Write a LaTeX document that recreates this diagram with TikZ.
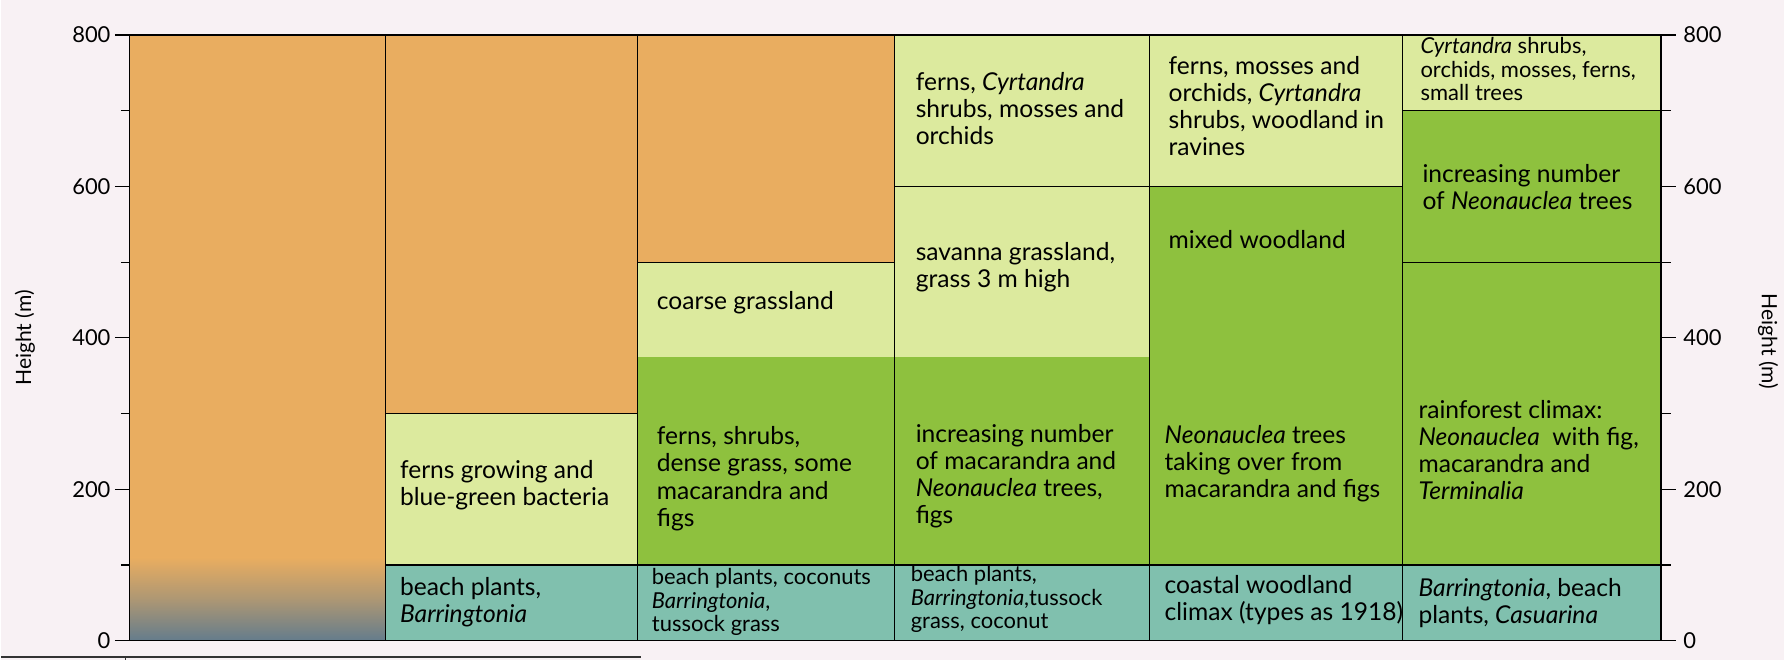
\documentclass[tikz,border=0pt]{standalone}
\usepackage{fontspec}
\setmainfont{Lato}
\usetikzlibrary{positioning}

\definecolor{paper}{HTML}{F8F1F4}
\definecolor{bare}{HTML}{E9AD60}
\definecolor{palegreen}{HTML}{DCEA9E}
\definecolor{leafgreen}{HTML}{8EC13E}
\definecolor{shore}{HTML}{80C0AE}
\definecolor{slate}{HTML}{647C8C}

\begin{document}
\begin{tikzpicture}[x=0.02cm, y=0.02cm,
  zone/.style={draw=black, line width=0.7pt},
  lbl/.style={anchor=west, align=left, inner sep=0pt, font=\fontsize{14}{15.4}\selectfont},
  lblsmall/.style={lbl, font=\fontsize{12.5}{13.2}\selectfont},
  axtick/.style={line width=0.7pt},
  ticklbl/.style={inner sep=0pt, font=\fontsize{12.5}{15}\selectfont},
  axtitle/.style={inner sep=0pt, font=\fontsize{12}{14}\selectfont}
]

\fill[paper] (0,0) rectangle (1784,660);
\draw[line width=1pt, black!80] (0,3) -- (640,3);
\draw[line width=0.6pt, black!80] (125,3) -- (125,0);

\begin{scope}[yshift=0.38cm, y=0.01515cm]

% column 1: bare lava
\fill[bare] (129,110) rectangle (385,800);
\shade[top color=bare, bottom color=slate, middle color=slate!45!bare] (129,0) rectangle (385,110);
\draw[zone] (129,0) rectangle (385,800);

% column 2
\filldraw[zone, fill=bare] (385,300) rectangle (637,800);
\filldraw[zone, fill=palegreen] (385,100) rectangle (637,300);
\filldraw[zone, fill=shore] (385,0) rectangle (637,100);

% column 3
\filldraw[zone, fill=bare] (637,500) rectangle (894,800);
\fill[palegreen] (637,375) rectangle (894,500);
\fill[leafgreen] (637,100) rectangle (894,375);
\draw[zone] (637,100) rectangle (894,500);
\filldraw[zone, fill=shore] (637,0) rectangle (894,100);

% column 4
\filldraw[zone, fill=palegreen] (894,600) rectangle (1149,800);
\fill[palegreen] (894,375) rectangle (1149,600);
\fill[leafgreen] (894,100) rectangle (1149,375);
\draw[zone] (894,100) rectangle (1149,600);
\filldraw[zone, fill=shore] (894,0) rectangle (1149,100);

% column 5
\filldraw[zone, fill=palegreen] (1149,600) rectangle (1402,800);
\filldraw[zone, fill=leafgreen] (1149,100) rectangle (1402,600);
\filldraw[zone, fill=shore] (1149,0) rectangle (1402,100);

% column 6
\filldraw[zone, fill=palegreen] (1402,700) rectangle (1661,800);
\filldraw[zone, fill=leafgreen] (1402,500) rectangle (1661,700);
\filldraw[zone, fill=leafgreen] (1402,100) rectangle (1661,500);
\filldraw[zone, fill=shore] (1402,0) rectangle (1661,100);

% axes
\draw[axtick] (129,0) -- (129,800);
\draw[axtick] (1661,0) -- (1661,800);
\foreach \h in {0,200,400,600,800} {
  \draw[axtick] (114,\h) -- (129,\h);
  \draw[axtick] (1661,\h) -- (1676,\h);
  \node[ticklbl, anchor=east] (left\h) at (110,\h) {\h};
  \node[ticklbl, anchor=west] (right\h) at (1683,\h) {\h};
}
\foreach \h in {100,300,500,700} {
  \draw[axtick] (120,\h) -- (129,\h);
  \draw[axtick] (1661,\h) -- (1671,\h);
}
\node[axtitle, rotate=90] (ytitleL) at (24,400) {Height (m)};
\node[axtitle, rotate=-90] (ytitleR) at (1768,395) {Height (m)};

% column 2 labels
\node[lbl] (fernsgrow) at (399,206) {ferns growing and\\blue-green bacteria};
\node[lbl] (beach2) at (399,51) {beach plants,\\\textit{Barringtonia}};

% column 3 labels
\node[lbl] (coarse) at (656,446) {coarse grassland};
\node[lbl] (shrubs3) at (656,214) {ferns, shrubs,\\dense grass, some\\macarandra and\\figs};
\node[lblsmall] (beach3) at (651,51) {beach plants, coconuts\\\textit{Barringtonia},\\tussock grass};

% column 4 labels
\node[lbl] (ferns4) at (915,703) {ferns, \textit{Cyrtandra}\\shrubs, mosses and\\orchids};
\node[lbl] (savanna) at (915,493) {savanna grassland,\\grass 3 m high};
\node[lbl] (macar4) at (915,217) {increasing number\\of macarandra and\\\textit{Neonauclea} trees,\\figs};
\node[lblsmall] (beach4) at (910,55) {beach plants,\\\textit{Barringtonia},tussock\\grass, coconut};

% column 5 labels
\node[lbl] (ferns5) at (1168,706) {ferns, mosses and\\orchids, \textit{Cyrtandra}\\shrubs, woodland in\\ravines};
\node[lbl] (mixed) at (1168,530) {mixed woodland};
\node[lbl] (neon5) at (1164,234) {\textit{Neonauclea} trees\\taking over from\\macarandra and figs};
\node[lbl] (coastal) at (1164,54) {coastal woodland\\climax (types as 1918)};

% column 6 labels
\node[lblsmall] (cyrt6) at (1420,755) {\textit{Cyrtandra} shrubs,\\orchids, mosses, ferns,\\small trees};
\node[lbl] (neon6) at (1422,599) {increasing number\\of \textit{Neonauclea} trees};
\node[lbl] (climax) at (1418,252) {rainforest climax:\\\textit{Neonauclea}\ \ with fig,\\macarandra and\\\textit{Terminalia}};
\node[lbl] (beach6) at (1418,50) {\textit{Barringtonia}, beach\\plants, \textit{Casuarina}};

\end{scope}
\end{tikzpicture}
\end{document}
